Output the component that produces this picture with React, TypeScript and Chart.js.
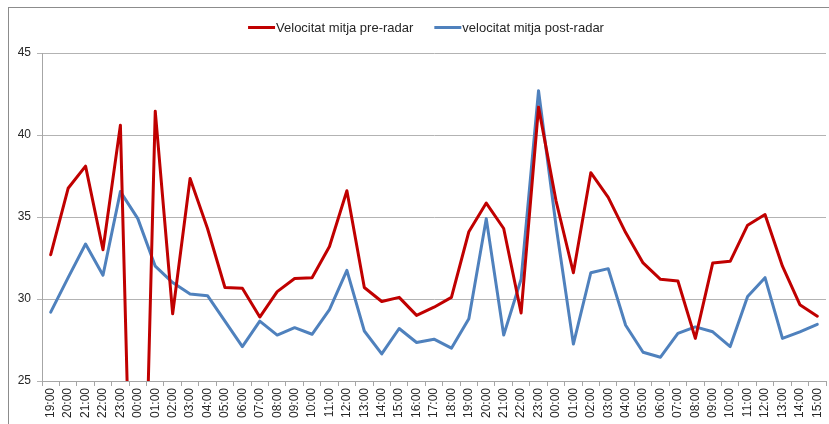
import React, { useEffect, useRef } from 'react';
import { Chart, registerables } from 'chart.js';

Chart.register(...registerables);

const hours: string[] = [
  '19:00', '20:00', '21:00', '22:00', '23:00',
  '00:00', '01:00', '02:00', '03:00', '04:00', '05:00', '06:00', '07:00', '08:00', '09:00', '10:00', '11:00',
  '12:00', '13:00', '14:00', '15:00', '16:00', '17:00', '18:00', '19:00', '20:00', '21:00', '22:00', '23:00',
  '00:00', '01:00', '02:00', '03:00', '04:00', '05:00', '06:00', '07:00', '08:00', '09:00', '10:00', '11:00',
  '12:00', '13:00', '14:00', '15:00',
];

const preRadar: number[] = [
  32.7, 36.75, 38.1, 33.0, 40.6, 0, 41.45, 29.1, 37.35, 34.3, 30.7, 30.65, 28.9, 30.45, 31.25,
  31.3, 33.2, 36.6, 30.7, 29.85, 30.1, 29.0, 29.5, 30.1, 34.1, 35.85, 34.3, 29.15, 41.7,
  36.0, 31.6, 37.7, 36.2, 34.05, 32.2, 31.2, 31.1, 27.6, 32.2, 32.3, 34.5, 35.15, 32.0, 29.65, 28.95,
];

const postRadar: number[] = [
  29.2, 31.3, 33.35, 31.45, 36.55, 34.9, 32.0, 31.0, 30.3, 30.2, 28.65, 27.1, 28.65, 27.8, 28.25,
  27.85, 29.35, 31.75, 28.05, 26.65, 28.2, 27.35, 27.55, 27.0, 28.8, 34.9, 27.8, 31.2, 42.7,
  34.5, 27.25, 31.6, 31.85, 28.4, 26.75, 26.45, 27.9, 28.3, 28.0, 27.1, 30.15, 31.3, 27.6, 28.0, 28.45,
];

const seriesNames: string[] = ['Velocitat mitja pre-radar', 'velocitat mitja post-radar'];
const seriesColors: string[] = ['#C00000', '#4F81BD'];

const yMin = 25;
const yMax = 45;
const yStep = 5;

const FONT = '"Liberation Sans", Arial, sans-serif';

const legendPlugin = {
  id: 'customLegend',
  afterDraw(chart: any) {
    const ctx = chart.ctx as CanvasRenderingContext2D;
    ctx.save();
    ctx.font = `13px ${FONT}`;
    ctx.textBaseline = 'middle';
    ctx.textAlign = 'left';
    const lineW = 27;
    const textGap = 1;
    const itemGap = 21;
    const widths = seriesNames.map((n) => ctx.measureText(n).width);
    const total = widths.reduce((a, w) => a + lineW + textGap + w, 0) + itemGap * (seriesNames.length - 1);
    const cx = 417;
    const y = 19.5;
    let x = cx - total / 2;
    seriesNames.forEach((name, i) => {
      ctx.strokeStyle = seriesColors[i];
      ctx.lineWidth = 3;
      ctx.beginPath();
      ctx.moveTo(x, y);
      ctx.lineTo(x + lineW, y);
      ctx.stroke();
      ctx.fillStyle = '#262626';
      ctx.fillText(name, x + lineW + textGap, y + 0.5);
      x += lineW + textGap + widths[i] + itemGap;
    });
    ctx.restore();
  },
};

export default function App() {
  const canvasRef = useRef<HTMLCanvasElement | null>(null);

  useEffect(() => {
    const canvas = canvasRef.current;
    if (!canvas) return;
    const chart = new Chart(canvas, {
      type: 'line',
      data: {
        labels: hours,
        datasets: [
          {
            label: seriesNames[0],
            data: preRadar,
            borderColor: seriesColors[0],
            backgroundColor: seriesColors[0],
            borderWidth: 3,
            borderJoinStyle: 'round',
            borderCapStyle: 'round',
            pointRadius: 0,
            tension: 0,
            fill: false,
          },
          {
            label: seriesNames[1],
            data: postRadar,
            borderColor: seriesColors[1],
            backgroundColor: seriesColors[1],
            borderWidth: 3,
            borderJoinStyle: 'round',
            borderCapStyle: 'round',
            pointRadius: 0,
            tension: 0,
            fill: false,
          },
        ],
      },
      options: {
        animation: false,
        responsive: false,
        maintainAspectRatio: false,
        devicePixelRatio: 1,
        layout: { padding: { top: 45, right: 23, left: 0, bottom: 0 } },
        plugins: {
          legend: { display: false },
          tooltip: { enabled: false },
        },
        scales: {
          x: {
            type: 'category',
            offset: true,
            grid: {
              offset: true,
              drawOnChartArea: false,
              drawTicks: true,
              tickLength: 5,
              color: '#a6a6a6',
            },
            border: { display: true, color: '#a6a6a6' },
            ticks: {
              autoSkip: false,
              maxRotation: 90,
              minRotation: 90,
              padding: 2,
              color: '#262626',
              font: { family: FONT, size: 12 },
            },
            afterFit: (s: any) => {
              s.height = 57;
            },
          },
          y: {
            min: yMin,
            max: yMax,
            ticks: {
              stepSize: yStep,
              padding: 6,
              color: '#262626',
              font: { family: FONT, size: 12 },
            },
            grid: { color: '#b3b3b3', tickLength: 5, drawTicks: true },
            border: { display: true, color: '#a6a6a6' },
            afterFit: (s: any) => {
              s.width = 33;
            },
          },
        },
      } as any,
      plugins: [legendPlugin],
    });
    return () => chart.destroy();
  }, []);

  return (
    <div style={{ position: 'fixed', left: 0, top: 0, width: 829, height: 424, overflow: 'hidden', background: '#fff' }}>
      <div
        style={{
          position: 'absolute',
          left: 8,
          top: 7,
          width: 840,
          height: 430,
          border: '1px solid #8c8c8c',
          background: '#fff',
        }}
      >
        <canvas ref={canvasRef} width={840} height={430} style={{ display: 'block', width: 840, height: 430 }} />
      </div>
    </div>
  );
}
